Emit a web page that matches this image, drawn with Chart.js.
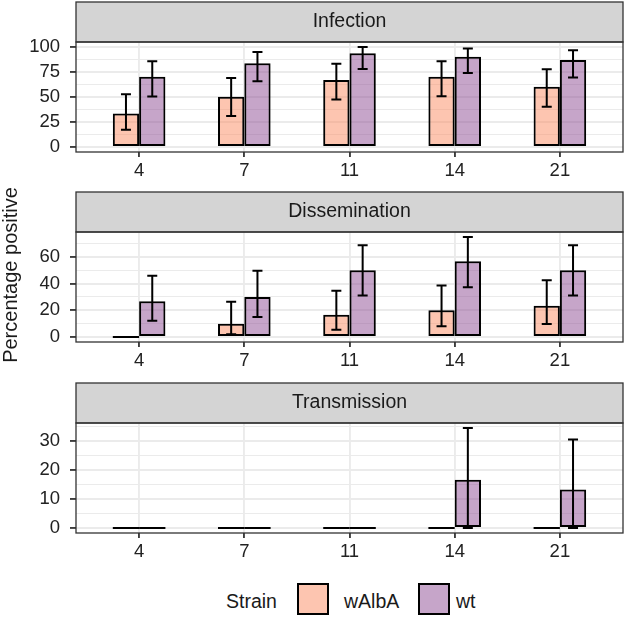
<!DOCTYPE html>
<html>
<head>
<meta charset="utf-8">
<script src="https://cdn.jsdelivr.net/npm/chart.js@4.4.1/dist/chart.umd.min.js"></script>
<style>
  html, body { margin: 0; padding: 0; background: #fff; }
  body { width: 626px; height: 619px; position: relative; overflow: hidden;
         font-family: 'Liberation Sans', Arial, sans-serif; color: #1a1a1a; }
  .facet { position: absolute; left: 0; width: 626px; height: 182px; }
  #ytitle { position: absolute; left: 10px; top: 275px; width: 300px; height: 20px;
            line-height: 20px; font-size: 20px; text-align: center; white-space: nowrap;
            transform: translate(-50%, -50%) rotate(-90deg); }
  .lg-text { position: absolute; top: 591px; font-size: 19.5px; line-height: 20px; white-space: nowrap; }
  .lg-key { position: absolute; top: 583px; width: 32px; height: 32px; box-sizing: border-box;
            border: 2px solid #000; }
</style>
</head>
<body>
<canvas id="c0" class="facet" width="626" height="182" style="top:0px"></canvas>
<canvas id="c1" class="facet" width="626" height="182" style="top:190px"></canvas>
<canvas id="c2" class="facet" width="626" height="182" style="top:381px"></canvas>
<div id="ytitle">Percentage positive</div>
<div id="legend"></div>
<script>
/* ---------- data ---------- */
const days = ['4', '7', '11', '14', '21'];
const strains = ['wAlbA', 'wt'];
const facetTitles = ['Infection', 'Dissemination', 'Transmission'];

// Infection
const infWAlbA   = [33.3, 50.0, 66.7, 70.0, 60.0];
const infWAlbALo = [17.3, 31.0, 47.2, 50.5, 40.2];
const infWAlbAHi = [52.5, 68.8, 83.0, 85.4, 77.5];
const infWt      = [70.0, 83.3, 93.3, 90.0, 86.7];
const infWtLo    = [50.2, 65.5, 77.8, 73.8, 69.1];
const infWtHi    = [85.4, 94.7, 99.6, 98.0, 96.4];

// Dissemination
const disWAlbA   = [0, 10.0, 16.7, 20.0, 23.3];
const disWAlbALo = [0, 2.0, 5.5, 8.0, 9.7];
const disWAlbAHi = [0, 26.4, 34.6, 38.6, 42.5];
const disWt      = [26.7, 30.0, 50.0, 56.7, 50.0];
const disWtLo    = [12.2, 14.9, 31.1, 37.3, 31.1];
const disWtHi    = [45.8, 49.5, 68.7, 74.8, 68.7];

// Transmission
const traWAlbA   = [0, 0, 0, 0, 0];
const traWAlbALo = [0, 0, 0, 0, 0];
const traWAlbAHi = [0, 0, 0, 0, 0];
const traWt      = [0, 0, 0, 16.7, 13.3];
const traWtLo    = [0, 0, 0, 0, 0];
const traWtHi    = [0, 0, 0, 34.6, 30.6];

// y ticks per facet (major labelled, minor only as grid)
const infMajor = [0, 25, 50, 75, 100];
const infMinor = [12.5, 37.5, 62.5, 87.5];
const disMajor = [0, 20, 40, 60];
const disMinor = [10, 30, 50, 70];
const traMajor = [0, 10, 20, 30];
const traMinor = [5, 15, 25, 35];

/* ---------- styling ---------- */
const FONT = "'Liberation Sans', Arial, sans-serif";
const fills = ['rgba(251,139,97,0.5)', 'rgba(141,75,147,0.5)'];
const keyFills = ['#fdc5b0', '#c6a5c9'];

/* ---------- facet plugin: strip, panel border, error bars, zero bars ---------- */
const facetPlugin = {
  id: 'facet',
  afterDatasetsDraw(chart, args, opts) {
    const ctx = chart.ctx;
    const y = chart.scales.y;
    ctx.save();
    ctx.strokeStyle = '#000';
    ctx.lineWidth = 2;
    chart.data.datasets.forEach((ds, di) => {
      const meta = chart.getDatasetMeta(di);
      meta.data.forEach((bar, i) => {
        const v = ds.data[i].y;
        if (v === 0) {
          ctx.beginPath();
          ctx.moveTo(bar.x - bar.width / 2, bar.base);
          ctx.lineTo(bar.x + bar.width / 2, bar.base);
          ctx.stroke();
        }
        const lo = y.getPixelForValue(opts.lo[di][i]);
        const hi = y.getPixelForValue(opts.hi[di][i]);
        const w = 5;
        ctx.beginPath();
        ctx.moveTo(bar.x, lo); ctx.lineTo(bar.x, hi);
        ctx.moveTo(bar.x - w, lo); ctx.lineTo(bar.x + w, lo);
        ctx.moveTo(bar.x - w, hi); ctx.lineTo(bar.x + w, hi);
        ctx.stroke();
      });
    });
    ctx.restore();
  },
  afterDraw(chart, args, opts) {
    const ctx = chart.ctx;
    const a = chart.chartArea;
    ctx.save();
    // strip
    ctx.fillStyle = '#d4d4d4';
    ctx.fillRect(a.left, a.top - 40, a.right - a.left, 40);
    ctx.strokeStyle = '#333';
    ctx.lineWidth = 1.3;
    ctx.strokeRect(a.left, a.top - 40, a.right - a.left, 40);
    ctx.fillStyle = '#1a1a1a';
    ctx.font = '19.5px ' + FONT;
    ctx.textAlign = 'center';
    ctx.textBaseline = 'middle';
    ctx.fillText(opts.title, (a.left + a.right) / 2, a.top - 20);
    // panel border
    ctx.strokeRect(a.left, a.top, a.right - a.left, a.bottom - a.top);
    ctx.restore();
  }
};

function makeFacet(id, title, series, lo, hi, major, minor) {
  const top = Math.max(...series.flat(), ...hi.flat());
  const isMajor = v => major.includes(v);
  const allTicks = major.concat(minor).sort((p, q) => p - q);

  return new Chart(document.getElementById(id), {
    type: 'bar',
    data: {
      datasets: strains.map((s, k) => ({
        label: s,
        data: series[k].map((v, i) => ({ x: i, y: v })),
        backgroundColor: fills[k],
        borderColor: '#000',
        borderWidth: 2,
        borderSkipped: false,
        categoryPercentage: 0.5,
        barPercentage: 1.0,
      })),
    },
    options: {
      responsive: false,
      animation: false,
      events: [],
      layout: { padding: { top: 42, right: 3, left: 0, bottom: 0 } },
      plugins: {
        legend: { display: false },
        tooltip: { enabled: false },
        facet: { title: title, lo: lo, hi: hi },
      },
      scales: {
        x: {
          type: 'linear',
          min: -0.6,
          max: 4.6,
          offset: false,
          afterBuildTicks: s => { s.ticks = days.map((d, i) => ({ value: i })); },
          afterFit: s => {
            s.height = 30;
            s.paddingLeft = 0; s.paddingRight = 0; s.paddingTop = 0; s.paddingBottom = 0;
          },
          border: { display: false },
          grid: { offset: false, color: '#ebebeb', lineWidth: 1.9, tickLength: 5, tickColor: '#333', tickWidth: 1.8 },
          ticks: {
            autoSkip: false, maxRotation: 0, padding: 3,
            color: '#222', font: { family: FONT, size: 18.5 },
            callback: v => days[v],
          },
        },
        y: {
          type: 'linear',
          min: -0.05 * top,
          max: 1.05 * top,
          afterBuildTicks: s => { s.ticks = allTicks.map(v => ({ value: v })); },
          afterFit: s => {
            s.width = 76;
            s.paddingLeft = 0; s.paddingRight = 0; s.paddingTop = 0; s.paddingBottom = 0;
          },
          border: { display: false },
          grid: {
            color: '#ebebeb',
            lineWidth: c => (c.tick && isMajor(c.tick.value) ? 1.9 : 1),
            tickLength: 6,
            tickColor: c => (c.tick && isMajor(c.tick.value) ? '#333' : 'rgba(0,0,0,0)'),
            tickWidth: 1.8,
          },
          ticks: {
            autoSkip: false, padding: 10,
            color: '#222', font: { family: FONT, size: 18.5 },
            callback: v => (isMajor(v) ? String(v) : ''),
          },
        },
      },
    },
    plugins: [facetPlugin],
  });
}

makeFacet('c0', facetTitles[0], [infWAlbA, infWt], [infWAlbALo, infWtLo], [infWAlbAHi, infWtHi], infMajor, infMinor);
makeFacet('c1', facetTitles[1], [disWAlbA, disWt], [disWAlbALo, disWtLo], [disWAlbAHi, disWtHi], disMajor, disMinor);
makeFacet('c2', facetTitles[2], [traWAlbA, traWt], [traWAlbALo, traWtLo], [traWAlbAHi, traWtHi], traMajor, traMinor);

/* ---------- legend ---------- */
const legend = document.getElementById('legend');
const keyLeft = [297, 418];
const textLeft = [344, 456];
legend.innerHTML =
  '<div class="lg-text" style="left:226px">Strain</div>' +
  strains.map((s, k) =>
    `<div class="lg-key" style="left:${keyLeft[k]}px;background:${keyFills[k]}"></div>` +
    `<div class="lg-text" style="left:${textLeft[k]}px">${s}</div>`).join('');
</script>
</body>
</html>
